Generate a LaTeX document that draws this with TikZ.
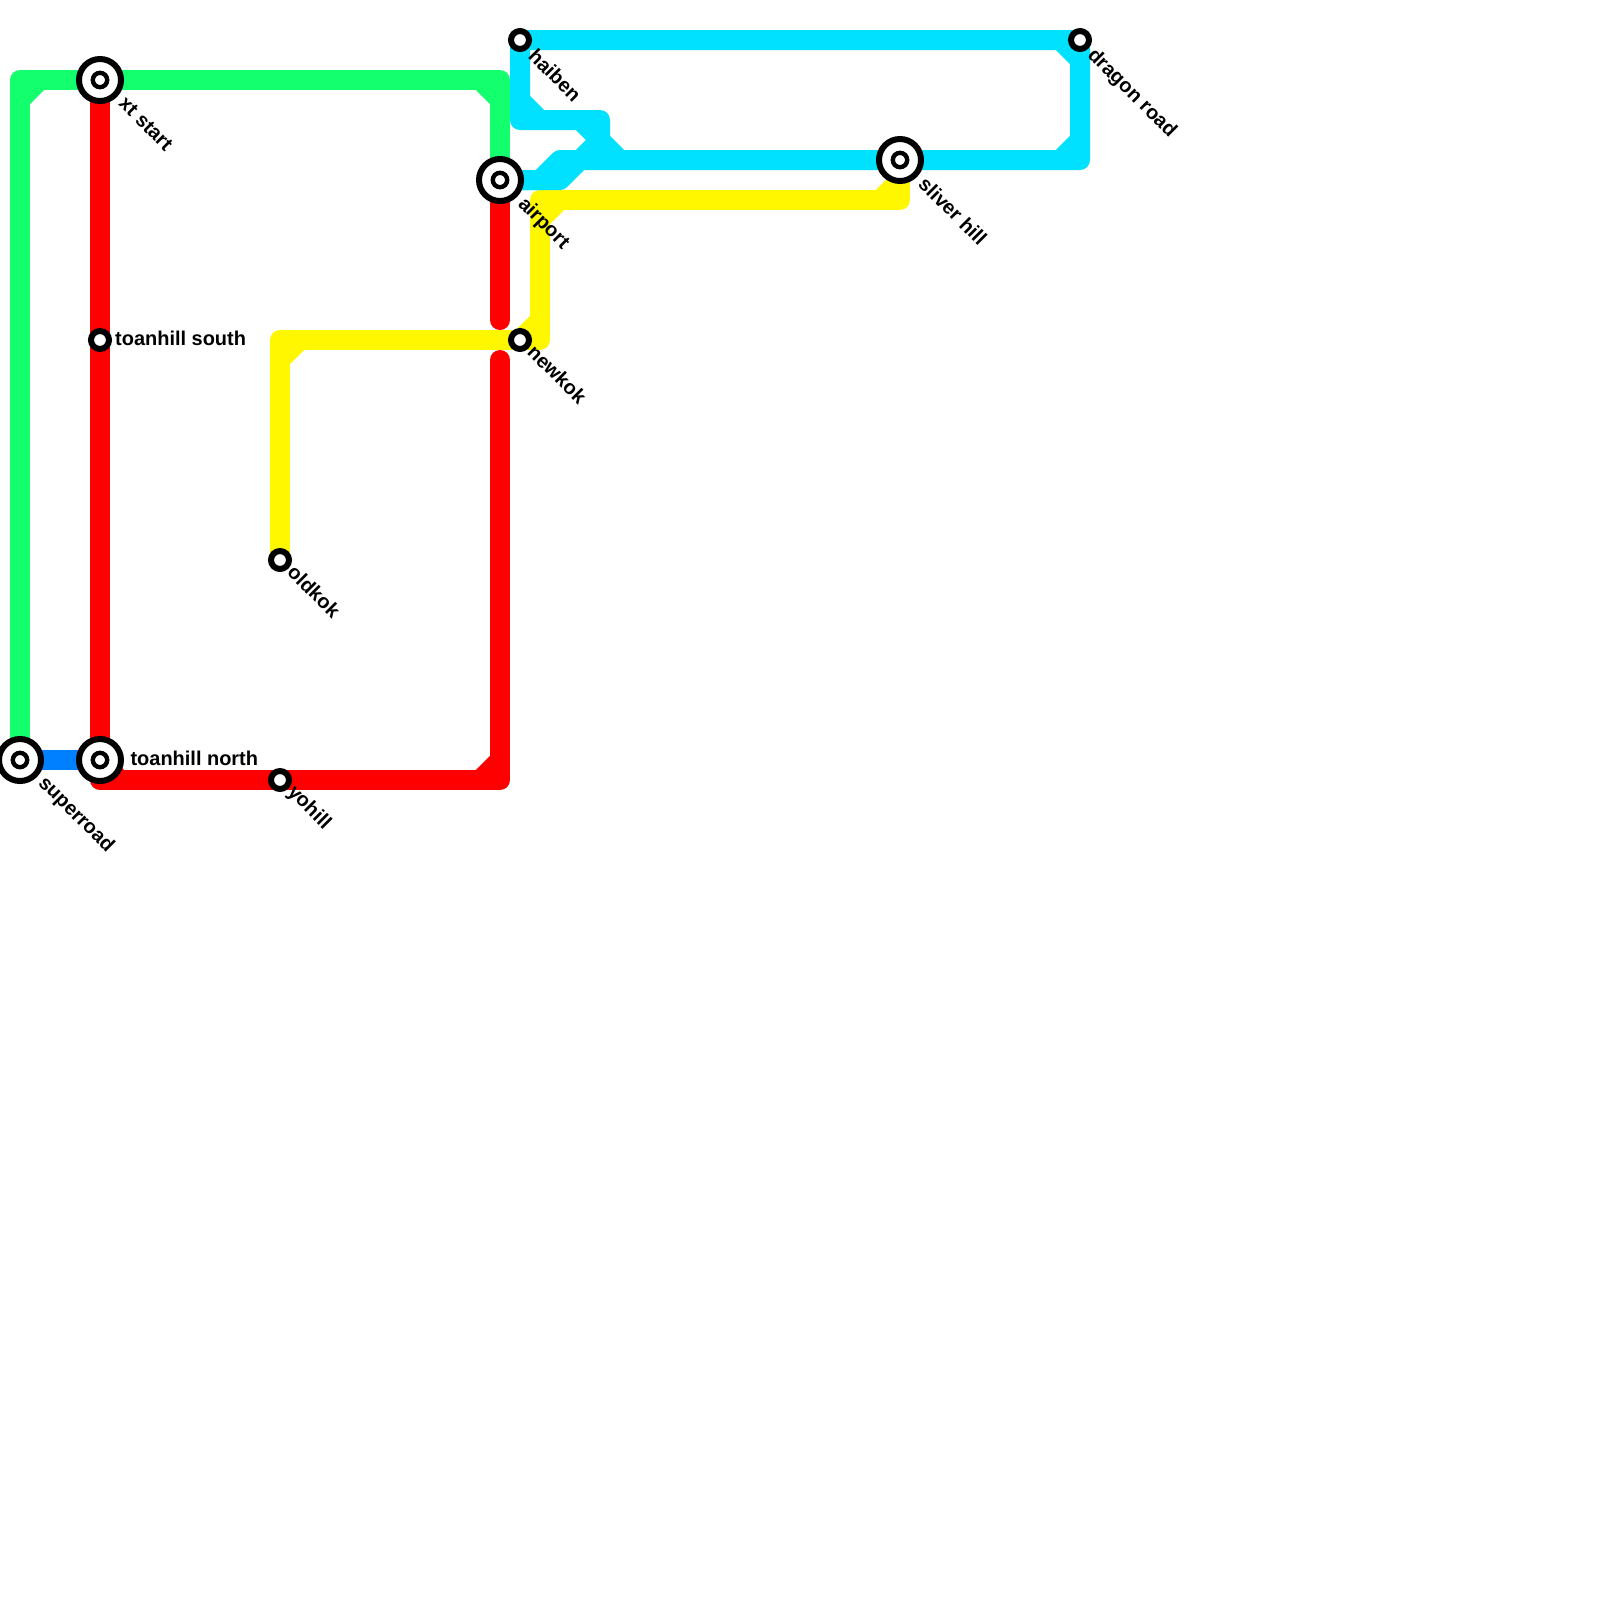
\documentclass[tikz,border=0pt]{standalone}
\usepackage{fontspec}
\setmainfont{Liberation Sans}
\usetikzlibrary{backgrounds}
\definecolor{linegreen}{HTML}{14FF6E}
\definecolor{lineblue}{HTML}{0080FF}
\definecolor{linered}{HTML}{FF0000}
\definecolor{lineyellow}{HTML}{FFF700}
\definecolor{linecyan}{HTML}{00E1FF}
\tikzset{
  metro/.style={line width=0.25cm,line cap=round,line join=round},
  bigstop/.style={circle,draw=black,fill=white,line width=0.075cm,minimum size=0.525cm,inner sep=0pt,outer sep=0pt,
    path picture={\draw[line width=0.055cm] (path picture bounding box.center) circle (0.09cm);}},
  smallstop/.style={circle,draw=black,fill=white,line width=0.075cm,minimum size=0.225cm,inner sep=0pt,outer sep=0pt},
  stoplabel/.style={inner sep=0pt,font=\bfseries\fontsize{7.1pt}{8pt}\selectfont,anchor=west},
  downlabel/.style={stoplabel,rotate=-45}
}
\begin{document}
\begin{tikzpicture}[x=0.25cm,y=-0.25cm]
\useasboundingbox (0,0) rectangle (80,80);
\node[bigstop] (superroad) at (1,38) {};
\node[bigstop] (toanhillnorth) at (5,38) {};
\node[bigstop] (xtstart) at (5,4) {};
\node[smallstop] (toanhillsouth) at (5,17) {};
\node[smallstop] (oldkok) at (14,28) {};
\node[smallstop] (yohill) at (14,39) {};
\node[bigstop] (airport) at (25,9) {};
\node[smallstop] (newkok) at (26,17) {};
\node[smallstop] (haiben) at (26,2) {};
\node[bigstop] (sliverhill) at (45,8) {};
\node[smallstop] (dragonroad) at (54,2) {};
\begin{scope}[on background layer]
% green
\draw[metro,linegreen] (superroad.center) -- (1,4) -- (xtstart.center) -- (25,4) -- (airport.center);
\draw[metro,linegreen] (1,5) -- (2,4) (24,4) -- (25,5);
% blue
\draw[metro,lineblue] (superroad.center) -- (toanhillnorth.center);
% red
\draw[metro,linered] (xtstart.center) -- (toanhillsouth.center) -- (toanhillnorth.center) -- (5,39) -- (yohill.center) -- (25,39) -- (25,18);
\draw[metro,linered] (5,38) -- (6,39) (24,39) -- (25,38);
\draw[metro,linered] (25,16) -- (airport.center);
% yellow
\draw[metro,lineyellow] (oldkok.center) -- (14,17) -- (newkok.center) -- (27,17) -- (27,10) -- (45,10) -- (sliverhill.center);
\draw[metro,lineyellow] (14,18) -- (15,17) (26,17) -- (27,16) (27,11) -- (28,10) (44,10) -- (45,9);
% cyan
\draw[metro,linecyan] (haiben.center) -- (26,6) -- (30,6) -- (30,7) -- (28,9) -- (airport.center);
\draw[metro,linecyan] (airport.center) -- (27,9) -- (28,8) -- (sliverhill.center) -- (54,8) -- (dragonroad.center) -- (haiben.center);
\draw[metro,linecyan] (26,5) -- (27,6) (29,6) -- (31,8) (53,2) -- (54,3) (53,8) -- (54,7);
\end{scope}
\node[stoplabel] (toanhillnorthtext) at (6.5,37.9) {toanhill north};
\node[stoplabel] (toanhillsouthtext) at (5.73,16.9) {toanhill south};
\node[downlabel] (superroadtext) at (2.05,39) {superroad};
\node[downlabel] (xtstarttext) at (6.1,5) {xt start};
\node[downlabel] (oldkoktext) at (14.55,28.4) {oldkok};
\node[downlabel] (yohilltext) at (14.5,39.45) {yohill};
\node[downlabel] (airporttext) at (26.03,10.05) {airport};
\node[downlabel] (newkoktext) at (26.55,17.4) {newkok};
\node[downlabel] (haibentext) at (26.6,2.6) {haiben};
\node[downlabel] (sliverhilltext) at (46.1,9) {sliver hill};
\node[downlabel] (dragonroadtext) at (54.5,2.6) {dragon road};
\end{tikzpicture}
\end{document}
